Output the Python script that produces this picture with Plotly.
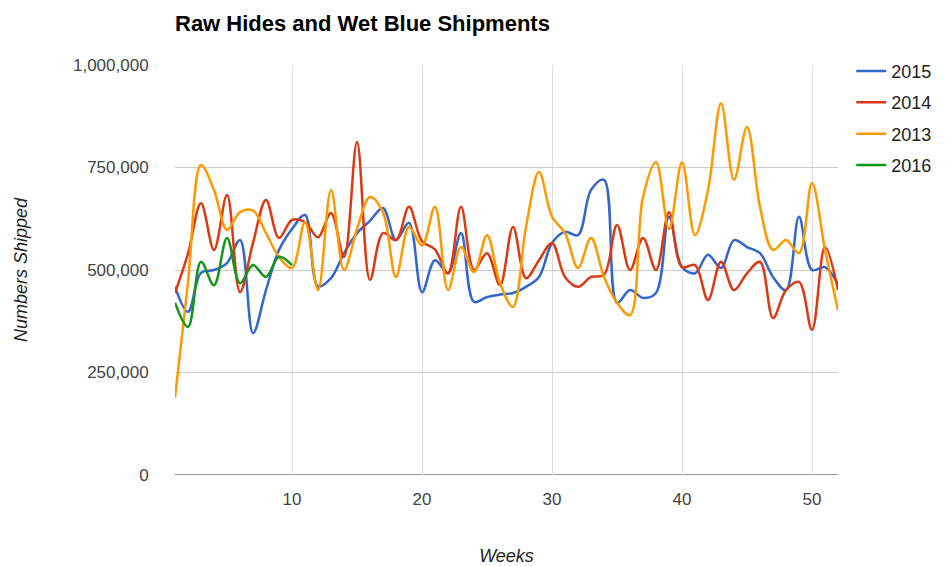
import plotly.graph_objects as go

weeks = list(range(1, 53))
weeks_2016 = list(range(1, 11))

s2015 = [459, 398, 493, 500, 517, 573, 346, 451, 549, 600,
         634, 460, 480, 541, 590, 620, 651, 573, 615, 446,
         524, 492, 590, 422, 434, 440, 444, 459, 483, 566,
         593, 585, 695, 720, 420, 451, 432, 444, 630, 507,
         492, 537, 505, 573, 556, 541, 483, 451, 630, 500,
         507, 465]
s2014 = [444, 540, 663, 549, 683, 446, 566, 671, 578, 622,
         617, 580, 639, 532, 812, 476, 590, 573, 654, 570,
         550, 492, 654, 500, 541, 463, 605, 480, 524, 566,
         483, 459, 483, 488, 610, 500, 578, 500, 641, 507,
         512, 427, 520, 451, 492, 520, 383, 451, 471, 354,
         556, 451]
s2013 = [188, 470, 756, 695, 598, 641, 645, 590, 532, 505,
         617, 451, 695, 500, 600, 678, 640, 483, 605, 560,
         654, 451, 556, 495, 585, 468, 410, 605, 739, 630,
         590, 505, 578, 483, 420, 390, 678, 763, 600, 763,
         585, 695, 907, 720, 849, 654, 549, 573, 541, 712,
         549, 402]
s2016 = [420, 361, 520, 463, 578, 468, 512, 483, 532, 512]

series = [
    ("2015", weeks, s2015, "#3366CC"),
    ("2014", weeks, s2014, "#DC3912"),
    ("2013", weeks, s2013, "#FF9900"),
    ("2016", weeks_2016, s2016, "#109618"),
]

y_ticks = [0, 250000, 500000, 750000, 1000000]
y_tick_labels = ["0", "250,000", "500,000", "750,000", "1,000,000"]
x_ticks = [10, 20, 30, 40, 50]

fig = go.Figure()
for name, xs, ys, color in series:
    fig.add_trace(go.Scatter(
        x=xs, y=[v * 1000 for v in ys], name=name, mode="lines",
        line=dict(color=color, width=2.5, shape="spline", smoothing=1.0),
        legendgroup=name,
    ))

font_family = "Liberation Sans, Arial, sans-serif"
W, H = 943, 558
fig.update_layout(
    width=W, height=H,
    margin=dict(l=167, r=113, t=57, b=91),
    paper_bgcolor="white", plot_bgcolor="white",
    font=dict(family=font_family, size=17, color="#444444"),
    title=dict(text="<b>Raw Hides and Wet Blue Shipments</b>",
               x=167 / W, xanchor="left", y=1 - 15 / H, yanchor="middle",
               font=dict(family=font_family, size=22, color="#000000")),
    legend=dict(x=1.02, xanchor="left", y=1.03, yanchor="top",
                font=dict(family=font_family, size=18, color="#222222"),
                tracegroupgap=5, itemwidth=30, bgcolor="rgba(0,0,0,0)"),
    showlegend=True,
)
fig.update_xaxes(
    range=[1, 52], tickvals=x_ticks, ticktext=[str(t) for t in x_ticks],
    showgrid=True, gridcolor="#DDDDDD", gridwidth=1,
    zeroline=False, showline=False, automargin=False,
    ticks="outside", ticklen=9, tickcolor="rgba(0,0,0,0)",
    tickfont=dict(size=17, color="#444444"),
    title=dict(text="<i>Weeks</i>", standoff=40,
               font=dict(size=18, color="#222222")),
)
fig.update_yaxes(
    range=[0, 1000000], tickvals=y_ticks, ticktext=y_tick_labels,
    showgrid=True, gridcolor="#CCCCCC", gridwidth=1,
    zeroline=False, showline=False, automargin=False,
    ticks="outside", ticklen=22, tickcolor="rgba(0,0,0,0)",
    tickfont=dict(size=17, color="#444444"),
    title=dict(text="<i>Numbers Shipped</i>", standoff=40,
               font=dict(size=18, color="#222222")),
)
fig.add_hline(y=0, line=dict(color="#999999", width=2), layer="below")

fig.write_html("out.html")
